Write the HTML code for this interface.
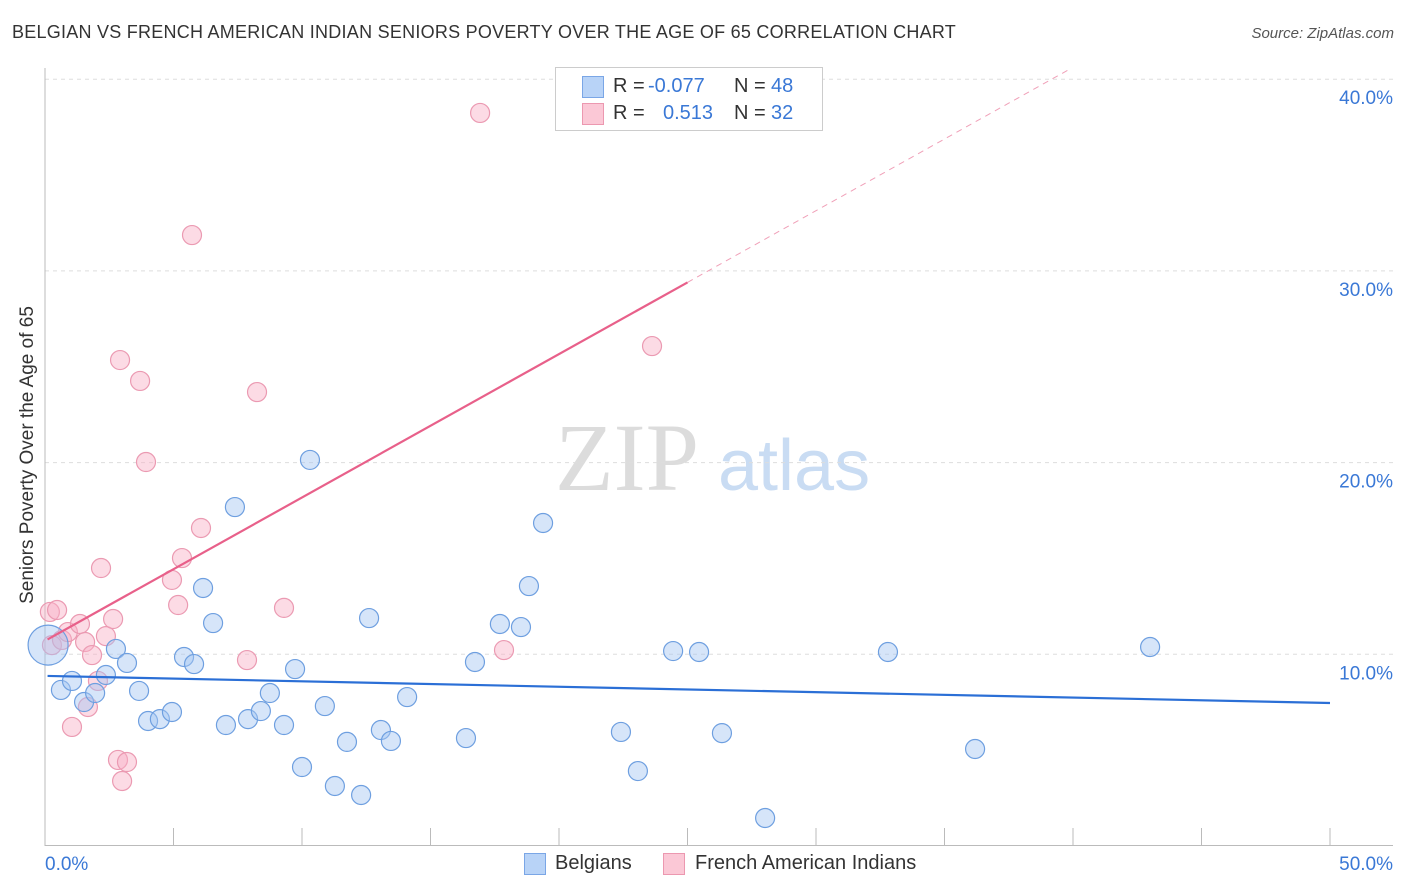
<!DOCTYPE html>
<html><head><meta charset="utf-8">
<style>
body{margin:0;background:#fff;font-family:"Liberation Sans",sans-serif;}
#wrap{position:relative;width:1406px;height:892px;overflow:hidden;}
.t{position:absolute;white-space:nowrap;}
</style></head><body>
<div id="wrap">
<div class="t" style="left:12px;top:22px;font-size:18px;color:#333;letter-spacing:0.25px">BELGIAN VS FRENCH AMERICAN INDIAN SENIORS POVERTY OVER THE AGE OF 65 CORRELATION CHART</div>
<div class="t" style="right:12px;top:25px;font-size:15px;color:#555;font-style:italic">Source: ZipAtlas.com</div>
<div class="t" style="left:-127px;top:444px;font-size:19px;color:#333;transform:rotate(-90deg);width:310px;text-align:center">Seniors Poverty Over the Age of 65</div>
<svg id="plot" width="1406" height="892" style="position:absolute;left:0;top:0"></svg>
<div style="position:absolute;left:555px;top:67px;width:266px;height:62px;border:1px solid #ccc;background:#fff;font-size:20px;">
 <div style="position:absolute;left:26px;top:8px;width:20px;height:20px;background:#b8d3f7;border:1px solid #7aa6e6"></div>
 <div class="t" style="left:57px;top:7px;color:#333">R = </div>
 <div class="t" style="left:92px;top:7px;color:#3a78d6">-0.077</div>
 <div class="t" style="left:178px;top:7px;color:#333">N = </div>
 <div class="t" style="left:215px;top:7px;color:#3a78d6">48</div>
 <div style="position:absolute;left:26px;top:35px;width:20px;height:20px;background:#fbc8d6;border:1px solid #ec98b0"></div>
 <div class="t" style="left:57px;top:34px;color:#333">R = </div>
 <div class="t" style="left:107px;top:34px;color:#3a78d6">0.513</div>
 <div class="t" style="left:178px;top:34px;color:#333">N = </div>
 <div class="t" style="left:215px;top:34px;color:#3a78d6">32</div>
</div>
<div style="position:absolute;left:524px;top:853px;">
 <div style="position:absolute;left:0;top:0;width:20px;height:20px;background:#b8d3f7;border:1px solid #7aa6e6"></div>
 <div class="t" style="left:31px;top:-1px;font-size:20px;color:#333">Belgians</div>
</div>
<div style="position:absolute;left:663px;top:853px;">
 <div style="position:absolute;left:0;top:0;width:20px;height:20px;background:#fbc8d6;border:1px solid #ec98b0"></div>
 <div class="t" style="left:32px;top:-1px;font-size:20px;color:#333">French American Indians</div>
</div>
</div>
<script>
const blueX=[0.12,0.62,1.05,1.52,1.95,2.37,2.76,3.19,3.66,4.01,4.47,4.94,5.41,5.80,6.15,6.54,7.04,7.39,7.90,8.40,8.75,9.30,9.73,10.00,10.31,10.89,11.28,11.75,12.30,12.61,13.07,13.46,14.09,16.38,16.73,17.70,18.52,18.83,19.38,22.41,23.07,24.44,25.45,26.34,28.02,32.80,36.19,43.0];
const blueY=[10.48,8.14,8.61,7.51,7.98,8.92,10.28,9.55,8.09,6.52,6.62,6.99,9.86,9.49,13.46,11.63,6.31,17.68,6.62,7.04,7.98,6.31,9.23,4.12,20.14,7.30,3.13,5.43,2.66,11.89,6.05,5.48,7.77,5.63,9.60,11.58,11.42,13.56,16.85,5.95,3.91,10.17,10.12,5.89,1.46,10.12,5.06,10.38];
const pinkX=[0.19,0.47,0.27,0.66,0.89,1.05,1.36,1.56,1.83,2.06,2.18,2.37,2.65,2.84,2.92,3.00,3.19,3.70,3.93,4.94,5.18,5.33,5.72,6.07,7.86,8.25,9.30,16.93,17.86,23.62,1.67];
const pinkY=[12.21,12.31,10.48,10.75,11.16,6.21,11.58,10.64,9.96,8.61,14.50,10.95,11.84,4.49,25.35,3.39,4.38,24.26,20.03,13.88,12.57,15.02,31.87,16.59,9.70,23.68,12.42,38.24,10.22,26.08,7.25];
const blueTrend=[8.87,7.46];   // y at x=0 and x=50
const pinkTrend=[10.7,29.4];   // y at x=0 and x=25
const yTicks=[10,20,30,40];
const yTickLabels=["10.0%","20.0%","30.0%","40.0%"];
const xTicks=[0,5,10,15,20,25,30,35,40,45,50];

const NS="http://www.w3.org/2000/svg";
const svg=document.getElementById('plot');
const X=v=>45+v*25.7;
const Y=v=>846-v*19.17;
function mk(tag,attrs){const e=document.createElementNS(NS,tag);for(const k in attrs)e.setAttribute(k,attrs[k]);svg.appendChild(e);return e;}

let w=mk('text',{x:555,y:490,'font-size':96,'font-family':'Liberation Serif, serif',fill:'#dcdcdc'});w.textContent='ZIP';


let w2=mk('text',{x:718,y:490,'font-size':72,'font-family':'Liberation Sans, sans-serif',fill:'#c9dcf3'});w2.textContent='atlas';



yTicks.forEach((t,i)=>{
 const g=mk('line',{x1:45,x2:1393,y1:Y(t),y2:Y(t),stroke:'#ddd','stroke-dasharray':'4,4'});
 
 
 const l=mk('text',{x:1393,y:Y(t)+25,'text-anchor':'end','font-size':19,fill:'#3a78d6','font-family':'Liberation Sans, sans-serif'});
 l.textContent=yTickLabels[i];
 
 
});
let ax=mk('line',{x1:45,x2:45,y1:68,y2:846,stroke:'#bbb'});


let bx=mk('line',{x1:45,x2:1393,y1:845.5,y2:845.5,stroke:'#bbb'});


xTicks.forEach(t=>{
 const k=mk('line',{x1:X(t),x2:X(t),y1:828,y2:846,stroke:'#bbb'});
 
 
});
let xl0=mk('text',{x:45,y:870,'font-size':19,fill:'#3a78d6','font-family':'Liberation Sans, sans-serif'});xl0.textContent='0.0%';


let xl1=mk('text',{x:1393,y:870,'text-anchor':'end','font-size':19,fill:'#3a78d6','font-family':'Liberation Sans, sans-serif'});xl1.textContent='50.0%';



pinkX.forEach((v,i)=>{
 const c=mk('circle',{cx:X(v),cy:Y(pinkY[i]),r:9.5,fill:'rgba(248,176,198,0.45)',stroke:'#eb9ab2','stroke-width':1.2});
 
 
});
blueX.forEach((v,i)=>{
 const c=mk('circle',{cx:X(v),cy:Y(blueY[i]),r:i===0?20:9.5,fill:'rgba(164,198,242,0.45)',stroke:'#6e9fe0','stroke-width':1.2});
 
 
});

const slope=(pinkTrend[1]-pinkTrend[0])/25;
let pd=mk('line',{x1:X(25),y1:Y(pinkTrend[1]),x2:X((40.5-pinkTrend[0])/slope),y2:Y(40.5),stroke:'#f0a0b8','stroke-dasharray':'6,5','stroke-width':1});


let ps=mk('line',{x1:X(0.1),y1:Y(pinkTrend[0]+0.1*slope),x2:X(25),y2:Y(pinkTrend[1]),stroke:'#e8608a','stroke-width':2.2});


let bl=mk('line',{x1:X(0.1),y1:Y(blueTrend[0]),x2:X(50),y2:Y(blueTrend[1]),stroke:'#2b6fd6','stroke-width':2.2});


</script>
</body></html>
